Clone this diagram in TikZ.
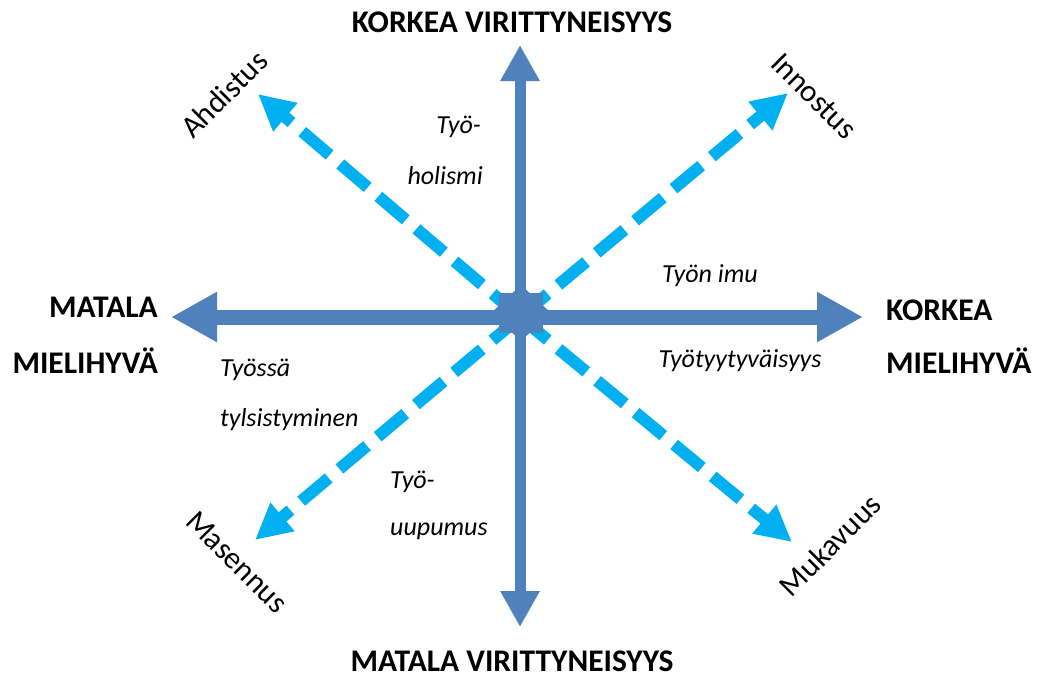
\documentclass[tikz,border=0pt]{standalone}
\usepackage{fontspec}
\setmainfont{Carlito}
\usetikzlibrary{arrows.meta}
\definecolor{axisblue}{HTML}{4F81BD}
\definecolor{dashblue}{HTML}{00B0F0}
\begin{document}
\begin{tikzpicture}[x=1pt,y=-1pt,
  vaxis/.style={draw=axisblue, line width=11pt, -{Triangle[length=36pt,width=37pt]}},
  haxis/.style={draw=axisblue, line width=15pt, -{Triangle[length=46pt,width=47pt]}},
  diag/.style={draw=dashblue, line width=12pt, dash pattern=on 36pt off 14pt,
    -{Triangle[length=36pt,width=35pt]}},
  axislabel/.style={font=\fontsize{31.5}{34}\selectfont\bfseries, inner sep=0pt},
  pole/.style={font=\fontsize{31}{34}\selectfont, inner sep=0pt},
  state/.style={font=\fontsize{26}{29}\selectfont\itshape, inner sep=0pt}]
\useasboundingbox (0,0) rectangle (1040,675);

% centre and arrow ends
\coordinate (c) at (520,317);
\coordinate (up) at (520,45);
\coordinate (down) at (520,627);
\coordinate (left) at (171,317);
\coordinate (right) at (863,317);
\coordinate (nw) at (258,94);
\coordinate (ne) at (788,93);
\coordinate (sw) at (255,540);
\coordinate (se) at (792,542);

% dashed diagonals
\draw[diag] (c) -- (nw);
\draw[diag] (c) -- (ne);
\draw[diag] (c) -- (sw);
\draw[diag] (c) -- (se);

% main axes
\draw[vaxis] (c) -- (up);
\draw[vaxis] (c) -- (down);
\draw[haxis] (c) -- (left);
\draw[haxis] (c) -- (right);

% hub where the arrows meet
\fill[axisblue] (499,293) rectangle (543,333);
\fill[axisblue] (491,313) -- (521,285) -- (551,313) -- (521,341) -- cycle;

% axis labels
\node[axislabel] (hiarousal) at (512,22) {KORKEA VIRITTYNEISYYS};
\node[axislabel, anchor=base] (loarousal) at (512,671) {MATALA VIRITTYNEISYYS};
\node[axislabel, anchor=east] (lopleas1) at (158,307) {MATALA};
\node[axislabel, anchor=east] (lopleas2) at (158,361) {MIELIHYVÄ};
\node[axislabel, anchor=west] (hipleas1) at (886,310) {KORKEA};
\node[axislabel, anchor=west] (hipleas2) at (886,361) {MIELIHYVÄ};

% diagonal poles
\node[pole, rotate=45] (ahd) at (224,94) {Ahdistus};
\node[pole, rotate=-45] (inn) at (814,96) {Innostus};
\node[pole, rotate=-45] (mas) at (237,562) {Masennus};
\node[pole, rotate=45] (muk) at (830,545) {Mukavuus};

% states in the quadrants
\node[state, anchor=east] (tyoh1) at (481,127) {Työ-};
\node[state, anchor=east] (tyoh2) at (483,176) {holismi};
\node[state] (imu) at (710,276) {Työn imu};
\node[state] (tyyt) at (740,361) {Työtyytyväisyys};
\node[state, anchor=west] (tyls1) at (220,370) {Työssä};
\node[state, anchor=west] (tyls2) at (220,420) {tylsistyminen};
\node[state, anchor=west] (uup1) at (390,482) {Työ-};
\node[state, anchor=west] (uup2) at (390,531) {uupumus};
\end{tikzpicture}
\end{document}
